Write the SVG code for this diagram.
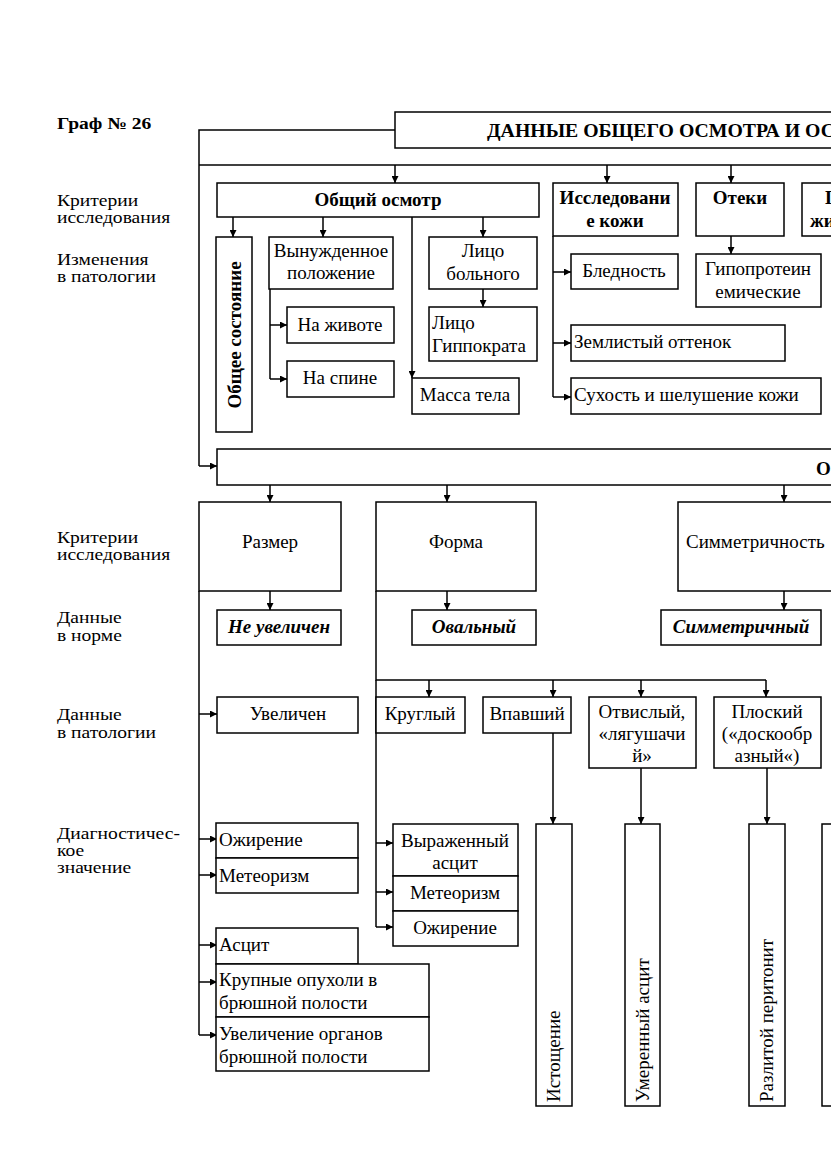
<svg xmlns="http://www.w3.org/2000/svg" width="831" height="1174" viewBox="0 0 831 1174">
<defs>
<marker id="a" viewBox="0 0 10 10" refX="10" refY="5" markerWidth="7" markerHeight="7" markerUnits="userSpaceOnUse" orient="auto"><path d="M0,0 L10,5 L0,10 z" fill="#000"/></marker>
<style>
.b{fill:#fff;stroke:#000;stroke-width:1.5}
.c{fill:none;stroke:#000;stroke-width:1.5}
.ar{fill:none;stroke:#000;stroke-width:1.5;marker-end:url(#a)}
text{font-family:"Liberation Serif","Times New Roman",serif;font-size:19px;fill:#000}
.m{text-anchor:middle}
.bd{font-weight:bold}
.bi{font-weight:bold;font-style:italic}
.lb{font-size:17px}
</style>
</defs>
<rect width="831" height="1174" fill="#fff"/>
<g id="labels" transform="translate(57,0) scale(1.15,1)">
<text class="bd lb" x="0" y="129">Граф № 26</text>
<text class="lb" x="0" y="206">Критерии</text>
<text class="lb" x="0" y="223">исследования</text>
<text class="lb" x="0" y="265">Изменения</text>
<text class="lb" x="0" y="282">в патологии</text>
<text class="lb" x="0" y="543">Критерии</text>
<text class="lb" x="0" y="560">исследования</text>
<text class="lb" x="0" y="623">Данные</text>
<text class="lb" x="0" y="641">в норме</text>
<text class="lb" x="0" y="720">Данные</text>
<text class="lb" x="0" y="738">в патологии</text>
<text class="lb" x="0" y="839">Диагностичес-</text>
<text class="lb" x="0" y="856">кое</text>
<text class="lb" x="0" y="873">значение</text>
</g>
<g id="connectors">
<polyline class="c" points="395,130 199,130 199,466"/>
<line class="ar" x1="199" y1="466" x2="217" y2="466"/>
<line class="c" x1="199" y1="165" x2="831" y2="165"/>
<line class="ar" x1="395" y1="165" x2="395" y2="183"/>
<line class="ar" x1="607" y1="165" x2="607" y2="183"/>
<line class="ar" x1="731" y1="165" x2="731" y2="183"/>
<line class="ar" x1="233" y1="217" x2="233" y2="237"/>
<line class="ar" x1="323" y1="217" x2="323" y2="237"/>
<line class="ar" x1="483" y1="217" x2="483" y2="237"/>
<line class="ar" x1="412" y1="217" x2="412" y2="378"/>
<line class="c" x1="270" y1="289" x2="270" y2="379"/>
<line class="ar" x1="270" y1="325" x2="287" y2="325"/>
<line class="ar" x1="270" y1="379" x2="287" y2="379"/>
<line class="ar" x1="483" y1="289" x2="483" y2="307"/>
<line class="c" x1="553" y1="236" x2="553" y2="397"/>
<line class="ar" x1="553" y1="272" x2="571" y2="272"/>
<line class="ar" x1="553" y1="343" x2="571" y2="343"/>
<line class="ar" x1="553" y1="397" x2="571" y2="397"/>
<line class="ar" x1="731" y1="236" x2="731" y2="254"/>
<line class="ar" x1="270" y1="485" x2="270" y2="502"/>
<line class="ar" x1="447" y1="485" x2="447" y2="502"/>
<line class="ar" x1="784" y1="485" x2="784" y2="502"/>
<line class="ar" x1="270" y1="591" x2="270" y2="610"/>
<line class="ar" x1="447" y1="591" x2="447" y2="610"/>
<line class="ar" x1="784" y1="591" x2="784" y2="610"/>
<line class="c" x1="199" y1="591" x2="199" y2="1035"/>
<line class="ar" x1="199" y1="714" x2="217" y2="714"/>
<line class="ar" x1="199" y1="839" x2="217" y2="839"/>
<line class="ar" x1="199" y1="875" x2="217" y2="875"/>
<line class="ar" x1="199" y1="945" x2="217" y2="945"/>
<line class="ar" x1="199" y1="982" x2="217" y2="982"/>
<line class="ar" x1="199" y1="1035" x2="217" y2="1035"/>
<polyline class="c" points="376,591 376,680 766,680"/>
<line class="ar" x1="429" y1="680" x2="429" y2="697"/>
<line class="ar" x1="553" y1="680" x2="553" y2="697"/>
<line class="ar" x1="641" y1="680" x2="641" y2="697"/>
<line class="ar" x1="766" y1="680" x2="766" y2="697"/>
<line class="c" x1="376" y1="680" x2="376" y2="927"/>
<line class="ar" x1="376" y1="843" x2="393" y2="843"/>
<line class="ar" x1="376" y1="892" x2="393" y2="892"/>
<line class="ar" x1="376" y1="927" x2="393" y2="927"/>
<line class="ar" x1="553" y1="733" x2="553" y2="824"/>
<line class="ar" x1="641" y1="768" x2="641" y2="824"/>
<line class="ar" x1="767" y1="768" x2="767" y2="824"/>
</g>
<g id="n-top"><rect class="b" x="395" y="112" width="450" height="36"/><text class="bd" x="487" y="137" textLength="348" lengthAdjust="spacingAndGlyphs">ДАННЫЕ ОБЩЕГО ОСМОТРА И ОС</text></g>
<g id="n-obsh"><rect class="b" x="217" y="183" width="322" height="34"/><text class="bd m" x="378" y="206">Общий осмотр</text></g>
<g id="n-kozha"><rect class="b" x="553" y="183" width="125" height="53"/><text class="bd m" x="615" y="204">Исследовани</text><text class="bd m" x="615" y="227">е кожи</text></g>
<g id="n-oteki"><rect class="b" x="696" y="183" width="88" height="53"/><text class="bd m" x="740" y="204">Отеки</text></g>
<g id="n-pzh"><rect class="b" x="802" y="183" width="60" height="53"/><text class="bd" x="825" y="204">П</text><text class="bd" x="810" y="227">жи</text></g>
<g id="n-sost"><rect class="b" x="216" y="237" width="36" height="195"/><text class="bd m" transform="translate(241,335) rotate(-90)">Общее состояние</text></g>
<g id="n-vyn"><rect class="b" x="269" y="237" width="124" height="52"/><text class="m" x="331" y="257">Вынужденное</text><text class="m" x="331" y="279">положение</text></g>
<g id="n-zhiv"><rect class="b" x="287" y="307" width="107" height="36"/><text class="m" x="340" y="331">На животе</text></g>
<g id="n-spin"><rect class="b" x="287" y="361" width="107" height="36"/><text class="m" x="340" y="384">На спине</text></g>
<g id="n-lico"><rect class="b" x="429" y="237" width="108" height="52"/><text class="m" x="483" y="257">Лицо</text><text class="m" x="483" y="280">больного</text></g>
<g id="n-gipp"><rect class="b" x="429" y="307" width="108" height="54"/><text x="432" y="329">Лицо</text><text x="432" y="352">Гиппократа</text></g>
<g id="n-massa"><rect class="b" x="412" y="378" width="107" height="36"/><text class="m" x="465" y="401">Масса тела</text></g>
<g id="n-bled"><rect class="b" x="571" y="254" width="107" height="35"/><text class="m" x="624" y="277">Бледность</text></g>
<g id="n-gipo"><rect class="b" x="696" y="254" width="125" height="53"/><text class="m" x="758" y="275">Гипопротеин</text><text class="m" x="758" y="298">емические</text></g>
<g id="n-zeml"><rect class="b" x="571" y="325" width="214" height="36"/><text x="574" y="348">Землистый оттенок</text></g>
<g id="n-suh"><rect class="b" x="571" y="378" width="250" height="36"/><text x="574" y="401">Сухость и шелушение кожи</text></g>
<g id="n-big"><rect class="b" x="217" y="449" width="640" height="36"/><text class="bd" x="816" y="475">О</text></g>
<g id="n-razm"><rect class="b" x="199" y="502" width="142" height="89"/><text class="m" x="270" y="548">Размер</text></g>
<g id="n-forma"><rect class="b" x="376" y="502" width="160" height="89"/><text class="m" x="456" y="548">Форма</text></g>
<g id="n-simm"><rect class="b" x="678" y="502" width="180" height="89"/><text x="686" y="548">Симметричность</text></g>
<g id="n-neuv"><rect class="b" x="217" y="610" width="124" height="35"/><text class="bi m" x="279" y="633">Не увеличен</text></g>
<g id="n-oval"><rect class="b" x="412" y="610" width="124" height="35"/><text class="bi m" x="474" y="633">Овальный</text></g>
<g id="n-simn"><rect class="b" x="661" y="610" width="160" height="35"/><text class="bi m" x="741" y="633">Симметричный</text></g>
<g id="n-uvel"><rect class="b" x="217" y="697" width="141" height="36"/><text class="m" x="288" y="720">Увеличен</text></g>
<g id="n-krug"><rect class="b" x="376" y="697" width="89" height="36"/><text class="m" x="420" y="720">Круглый</text></g>
<g id="n-vpav"><rect class="b" x="483" y="697" width="88" height="36"/><text class="m" x="527" y="720">Впавший</text></g>
<g id="n-otv"><rect class="b" x="589" y="697" width="107" height="71"/><text class="m" x="642" y="718">Отвислый,</text><text class="m" x="642" y="740">«лягушачи</text><text class="m" x="642" y="762">й»</text></g>
<g id="n-plos"><rect class="b" x="714" y="697" width="107" height="71"/><text class="m" x="767" y="718">Плоский</text><text class="m" x="767" y="740">(«доскообр</text><text class="m" x="767" y="762">азный«)</text></g>
<g id="n-ozh1"><rect class="b" x="216" y="823" width="142" height="35"/><text x="219" y="846">Ожирение</text></g>
<g id="n-met1"><rect class="b" x="216" y="858" width="142" height="35"/><text x="219" y="882">Метеоризм</text></g>
<g id="n-asc"><rect class="b" x="216" y="928" width="142" height="36"/><text x="219" y="951">Асцит</text></g>
<g id="n-kru"><rect class="b" x="216" y="964" width="213" height="53"/><text x="219" y="986">Крупные опухоли в</text><text x="219" y="1009">брюшной полости</text></g>
<g id="n-uvo"><rect class="b" x="216" y="1017" width="213" height="54"/><text x="219" y="1040">Увеличение органов</text><text x="219" y="1063">брюшной полости</text></g>
<g id="n-vyr"><rect class="b" x="393" y="824" width="125" height="52"/><text class="m" x="455" y="847">Выраженный</text><text class="m" x="455" y="869">асцит</text></g>
<g id="n-met2"><rect class="b" x="393" y="876" width="125" height="35"/><text class="m" x="455" y="899">Метеоризм</text></g>
<g id="n-ozh2"><rect class="b" x="393" y="911" width="125" height="35"/><text class="m" x="455" y="934">Ожирение</text></g>
<g id="n-ist"><rect class="b" x="536" y="824" width="36" height="282"/><text transform="translate(560,1102) rotate(-90)">Истощение</text></g>
<g id="n-umer"><rect class="b" x="625" y="824" width="35" height="282"/><text transform="translate(649,1102) rotate(-90)">Умеренный асцит</text></g>
<g id="n-razl"><rect class="b" x="749" y="824" width="36" height="282"/><text transform="translate(773,1102) rotate(-90)">Разлитой перитонит</text></g>
<g id="n-last"><rect class="b" x="822" y="824" width="40" height="282"/></g>
</svg>
